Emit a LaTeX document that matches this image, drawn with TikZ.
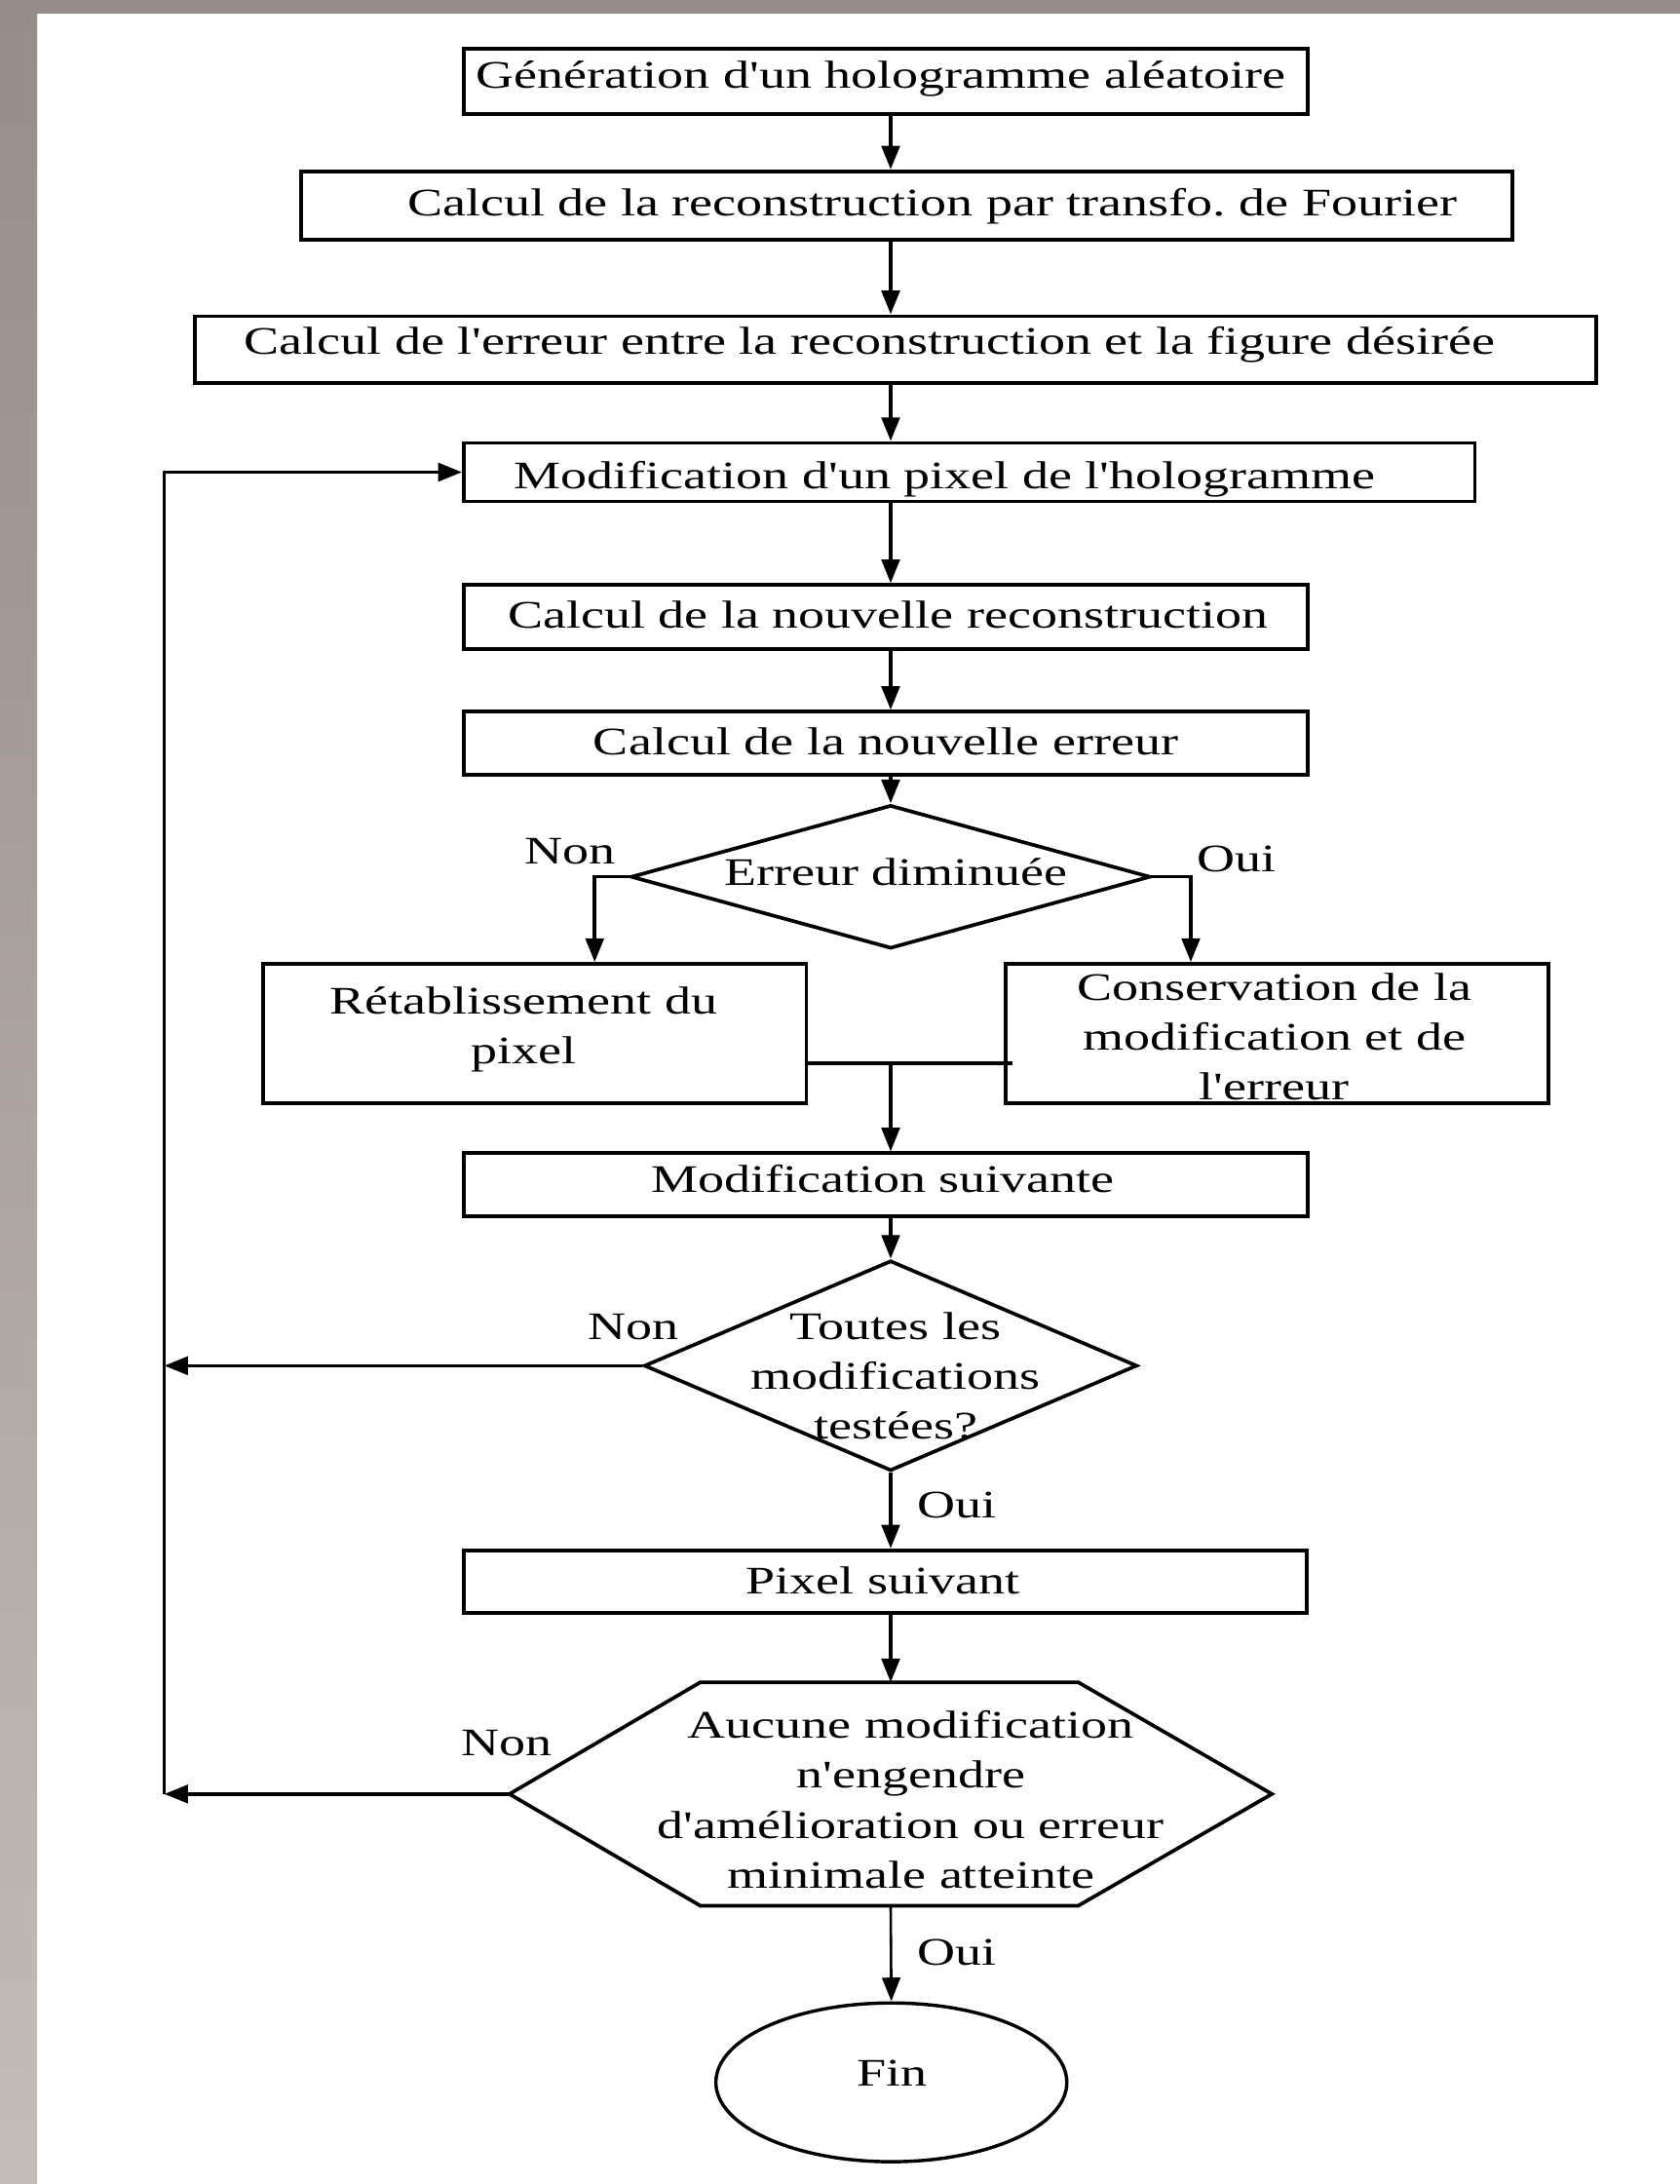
\documentclass[tikz,border=0pt]{standalone}
\usepackage{fontspec}
\setmainfont{Liberation Serif}[FakeStretch=1.35,Ligatures=TeXOff]
\usetikzlibrary{arrows.meta,shapes.geometric}
\definecolor{bordertop}{HTML}{968C89}
\definecolor{borderbot}{HTML}{C3BCB8}
\begin{document}
\begin{tikzpicture}[x=1pt,y=-1pt,
  box/.style={draw,rectangle,line width=2.7pt,inner sep=0pt},
  dia/.style={draw,diamond,line width=2.6pt,inner sep=0pt},
  txt/.style={inner sep=0pt,anchor=base,align=center,font=\fontsize{28}{35.8}\selectfont\frenchspacing},
  conn/.style={line width=2.5pt},
  arr/.style={conn,-{Triangle[length=17pt,width=13pt]}}
]
\useasboundingbox (0,0) rectangle (1206,1568);
\fill[white] (0,0) rectangle (1206,1568);
\fill[bordertop] (0,0) rectangle (1206,9.8);
\shade[top color=bordertop,bottom color=borderbot] (0,0) rectangle (26.6,1568);

% boxes
\node[box,minimum width=606pt,minimum height=47pt] (b1) at (636,58.5) {};
\node[box,minimum width=870pt,minimum height=49pt] (b2) at (651,147.5) {};
\node[box,minimum width=1006pt,minimum height=48pt] (b3) at (643,251) {};
\node[box,minimum width=726pt,minimum height=42pt] (b4) at (696,339) {};
\node[box,minimum width=606pt,minimum height=46pt] (b5) at (636,443) {};
\node[box,minimum width=606pt,minimum height=45pt] (b6) at (636,533.5) {};
\node[dia,minimum width=373pt,minimum height=103pt] (d1) at (639.5,629.5) {};
\node[box,minimum width=390pt,minimum height=100pt] (b7) at (384,742) {};
\node[box,minimum width=390pt,minimum height=100pt] (b8) at (917,742) {};
\node[box,minimum width=606pt,minimum height=45pt] (b9) at (636,850.5) {};
\node[dia,minimum width=354pt,minimum height=151pt] (d2) at (639.5,980.5) {};
\node[box,minimum width=605pt,minimum height=45pt] (b10) at (635.5,1135.5) {};
\node[inner sep=0pt,minimum width=547pt,minimum height=160pt] (hex) at (639.5,1288) {};
\draw[line width=2.6pt,line join=miter] (hex.west) -- ([xshift=137pt]hex.north west) -- ([xshift=-139pt]hex.north east)
  -- (hex.east) -- ([xshift=-139pt]hex.south east) -- ([xshift=137pt]hex.south west) -- cycle;
\node[draw,ellipse,line width=2.4pt,inner sep=0pt,minimum width=252pt,minimum height=114pt] (fin) at (640,1495) {};

% texts
\node[txt] at (632.5,63) {Génération d'un hologramme aléatoire};
\node[txt] at (669.5,155) {Calcul de la reconstruction par transfo. de Fourier};
\node[txt] at (624.5,254) {Calcul de l'erreur entre la reconstruction et la figure désirée};
\node[txt] at (678.5,351) {Modification d'un pixel de l'hologramme};
\node[txt] at (637.5,451) {Calcul de la nouvelle reconstruction};
\node[txt] at (636,542) {Calcul de la nouvelle erreur};
\node[txt] at (643.5,635.5) {Erreur diminuée};
\node[txt] at (409.5,620.5) {Non};
\node[txt] at (888,626) {Oui};
\node[txt] at (376,763.5) {Rétablissement du\\pixel};
\node[txt] at (915,789.5) {Conservation de la\\modification et de\\l'erreur};
\node[txt] at (634,856) {Modification suivante};
\node[txt] at (643,1033) {Toutes les\\modifications\\testées?};
\node[txt] at (454.5,962) {Non};
\node[txt] at (687,1089.5) {Oui};
\node[txt] at (633.8,1144) {Pixel suivant};
\node[txt] at (654,1355.5) {Aucune modification\\n'engendre\\d'amélioration ou erreur\\minimale atteinte};
\node[txt] at (364,1260.5) {Non};
\node[txt] at (687,1411) {Oui};
\node[txt] at (640.5,1498) {Fin};

% connectors
\coordinate (ax) at (639.5,0);
\coordinate (fb) at (118,0);
\coordinate (m) at (639.5,763.5);
\draw[arr] (b1.south -| ax) -- (b2.north -| ax);
\draw[arr] (b2.south -| ax) -- (b3.north -| ax);
\draw[arr] (b3.south -| ax) -- (b4.north -| ax);
\draw[arr] (b4.south -| ax) -- (b5.north -| ax);
\draw[arr] (b5.south -| ax) -- (b6.north -| ax);
\draw[arr] (b6.south -| ax) -- (d1.north);
\draw[arr] (d1.west) -| ([xshift=43pt]b7.north);
\draw[arr] (d1.east) -| ([xshift=-62pt]b8.north);
\draw[conn] (b7.east |- m) -- ([xshift=6pt]b8.west |- m);
\draw[arr] (m) -- (b9.north -| m);
\draw[arr] (b9.south -| ax) -- (d2.north);
\draw[arr] (d2.south) -- (b10.north -| ax);
\draw[arr] (b10.south -| ax) -- (hex.north);
\draw[arr,line width=1.8pt] (hex.south) -- (fin.north);
\draw[arr] (d2.west) -- (d2.west -| fb);
\draw[arr] (hex.west) -- (hex.west -| fb);
\draw[arr] (hex.west -| fb) |- (b4.west);
\end{tikzpicture}
\end{document}
